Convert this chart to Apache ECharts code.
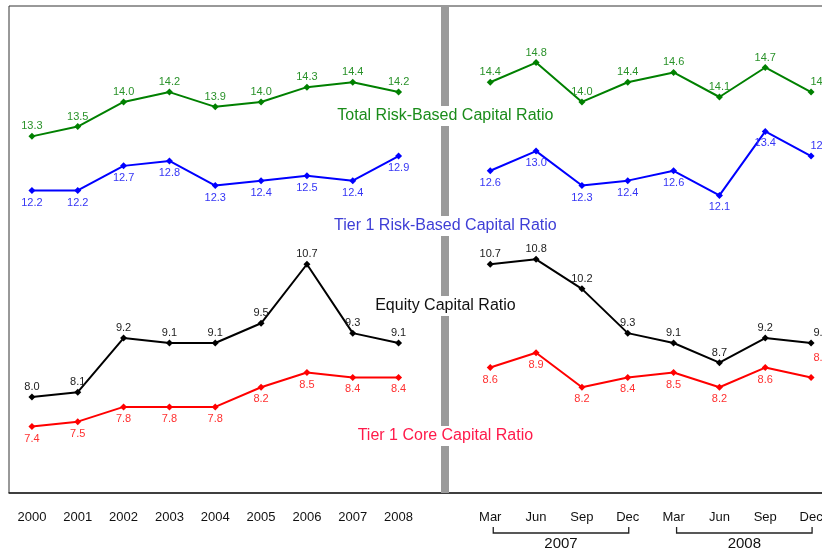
<!DOCTYPE html>
<html>
<head>
<meta charset="utf-8">
<script src="https://cdn.jsdelivr.net/npm/echarts@6/dist/echarts.min.js"></script>
<style>
html, body { margin: 0; padding: 0; background: #fff; }
#chart { width: 822px; height: 554px; }
</style>
</head>
<body>
<div id="chart"></div>
<script>
var years = ['2000', '2001', '2002', '2003', '2004', '2005', '2006', '2007', '2008'];
var quarters = ['Mar', 'Jun', 'Sep', 'Dec', 'Mar', 'Jun', 'Sep', 'Dec'];
var quarterYears = ['2007', '2008'];

var totalAnnual = [13.3, 13.5, 14.0, 14.2, 13.9, 14.0, 14.3, 14.4, 14.2];
var totalQuarterly = [14.4, 14.8, 14.0, 14.4, 14.6, 14.1, 14.7, 14.2];
var tier1Annual = [12.2, 12.2, 12.7, 12.8, 12.3, 12.4, 12.5, 12.4, 12.9];
var tier1Quarterly = [12.6, 13.0, 12.3, 12.4, 12.6, 12.1, 13.4, 12.9];
var equityAnnual = [8.0, 8.1, 9.2, 9.1, 9.1, 9.5, 10.7, 9.3, 9.1];
var equityQuarterly = [10.7, 10.8, 10.2, 9.3, 9.1, 8.7, 9.2, 9.1];
var coreAnnual = [7.4, 7.5, 7.8, 7.8, 7.8, 8.2, 8.5, 8.4, 8.4];
var coreQuarterly = [8.6, 8.9, 8.2, 8.4, 8.5, 8.2, 8.6, 8.4];

var font = 'Liberation Sans, Arial, sans-serif';
// blank category between the yearly and quarterly parts
var categories = years.concat([''], quarters);
var gapIndex = years.length;

function makeSeries(name, annual, quarterly, color, labelColor, labelPos, lastOffset) {
    var values = annual.concat([null], quarterly);
    var data = values.map(function (v, i) {
        if (i === values.length - 1) {
            return { value: v, label: { position: 'top', distance: 1, offset: lastOffset } };
        }
        return v;
    });
    return {
        name: name,
        type: 'line',
        data: data,
        symbol: 'diamond',
        symbolSize: 7,
        lineStyle: { color: color, width: 2 },
        itemStyle: { color: color },
        label: {
            show: true,
            position: labelPos,
            distance: labelPos === 'top' ? 1 : 3,
            color: labelColor,
            fontSize: 11,
            fontFamily: font,
            formatter: function (p) { return p.value.toFixed(1); }
        }
    };
}

var totalSeries = makeSeries('Total Risk-Based Capital Ratio', totalAnnual, totalQuarterly, '#008000', '#2a922a', 'top', [10, 0]);
totalSeries.markLine = {
    silent: true,
    symbol: ['none', 'none'],
    label: { show: false },
    lineStyle: { color: '#9a9a9a', width: 8, type: 'solid' },
    data: [{ xAxis: gapIndex }]
};

var option = {
    animation: false,
    backgroundColor: '#fff',
    grid: {
        left: 9, top: 6, width: 825, height: 487,
        outerBoundsMode: 'none',
        containLabel: false,
        show: true, borderColor: '#333', borderWidth: 1
    },
    xAxis: {
        type: 'category',
        data: categories,
        boundaryGap: true,
        axisLine: { lineStyle: { color: '#222', width: 1.5 } },
        axisTick: { inside: true, length: 4, lineStyle: { color: '#222' } },
        axisLabel: { color: '#111', fontSize: 13, fontFamily: font, margin: 18, interval: 0 }
    },
    yAxis: {
        type: 'value',
        show: false,
        min: 6.05,
        max: 15.95,
        splitLine: { show: false }
    },
    series: [
        totalSeries,
        makeSeries('Tier 1 Risk-Based Capital Ratio', tier1Annual, tier1Quarterly, '#0000ff', '#3535f5', 'bottom', [10, 0]),
        makeSeries('Equity Capital Ratio', equityAnnual, equityQuarterly, '#000000', '#222222', 'top', [10, 0]),
        makeSeries('Tier 1 Core Capital Ratio', coreAnnual, coreQuarterly, '#ff0000', '#ff3030', 'bottom', [10, -9])
    ]
};

var chart = echarts.init(document.getElementById('chart'));
chart.setOption(option);

// series name labels over the divider, and the year brackets under the quarters
var gapX = chart.convertToPixel({ xAxisIndex: 0 }, gapIndex);
var nameLabels = [
    { text: 'Total Risk-Based Capital Ratio', y: 116, color: '#1a8c1a' },
    { text: 'Tier 1 Risk-Based Capital Ratio', y: 226, color: '#3e3ed6' },
    { text: 'Equity Capital Ratio', y: 306, color: '#111111' },
    { text: 'Tier 1 Core Capital Ratio', y: 436, color: '#ff1a4a' }
];
var graphics = nameLabels.map(function (l) {
    return {
        type: 'text',
        z: 100,
        x: gapX + 1,
        y: l.y,
        style: {
            text: l.text,
            fill: l.color,
            font: '16px ' + font,
            textAlign: 'center',
            textVerticalAlign: 'middle',
            backgroundColor: '#fff',
            padding: [2, 3]
        }
    };
});
quarterYears.forEach(function (yr, k) {
    var first = gapIndex + 1 + k * 4;
    var x0 = chart.convertToPixel({ xAxisIndex: 0 }, first) + 3;
    var x1 = chart.convertToPixel({ xAxisIndex: 0 }, first + 3) + 1;
    graphics.push({
        type: 'polyline',
        z: 100,
        shape: { points: [[x0, 527], [x0, 533], [x1, 533], [x1, 527]] },
        style: { stroke: '#222', lineWidth: 1.3, fill: null }
    });
    graphics.push({
        type: 'text',
        z: 100,
        x: (x0 + x1) / 2,
        y: 544,
        style: {
            text: yr,
            fill: '#111',
            font: '15px ' + font,
            textAlign: 'center',
            textVerticalAlign: 'middle'
        }
    });
});
chart.setOption({ graphic: graphics });
</script>
</body>
</html>
